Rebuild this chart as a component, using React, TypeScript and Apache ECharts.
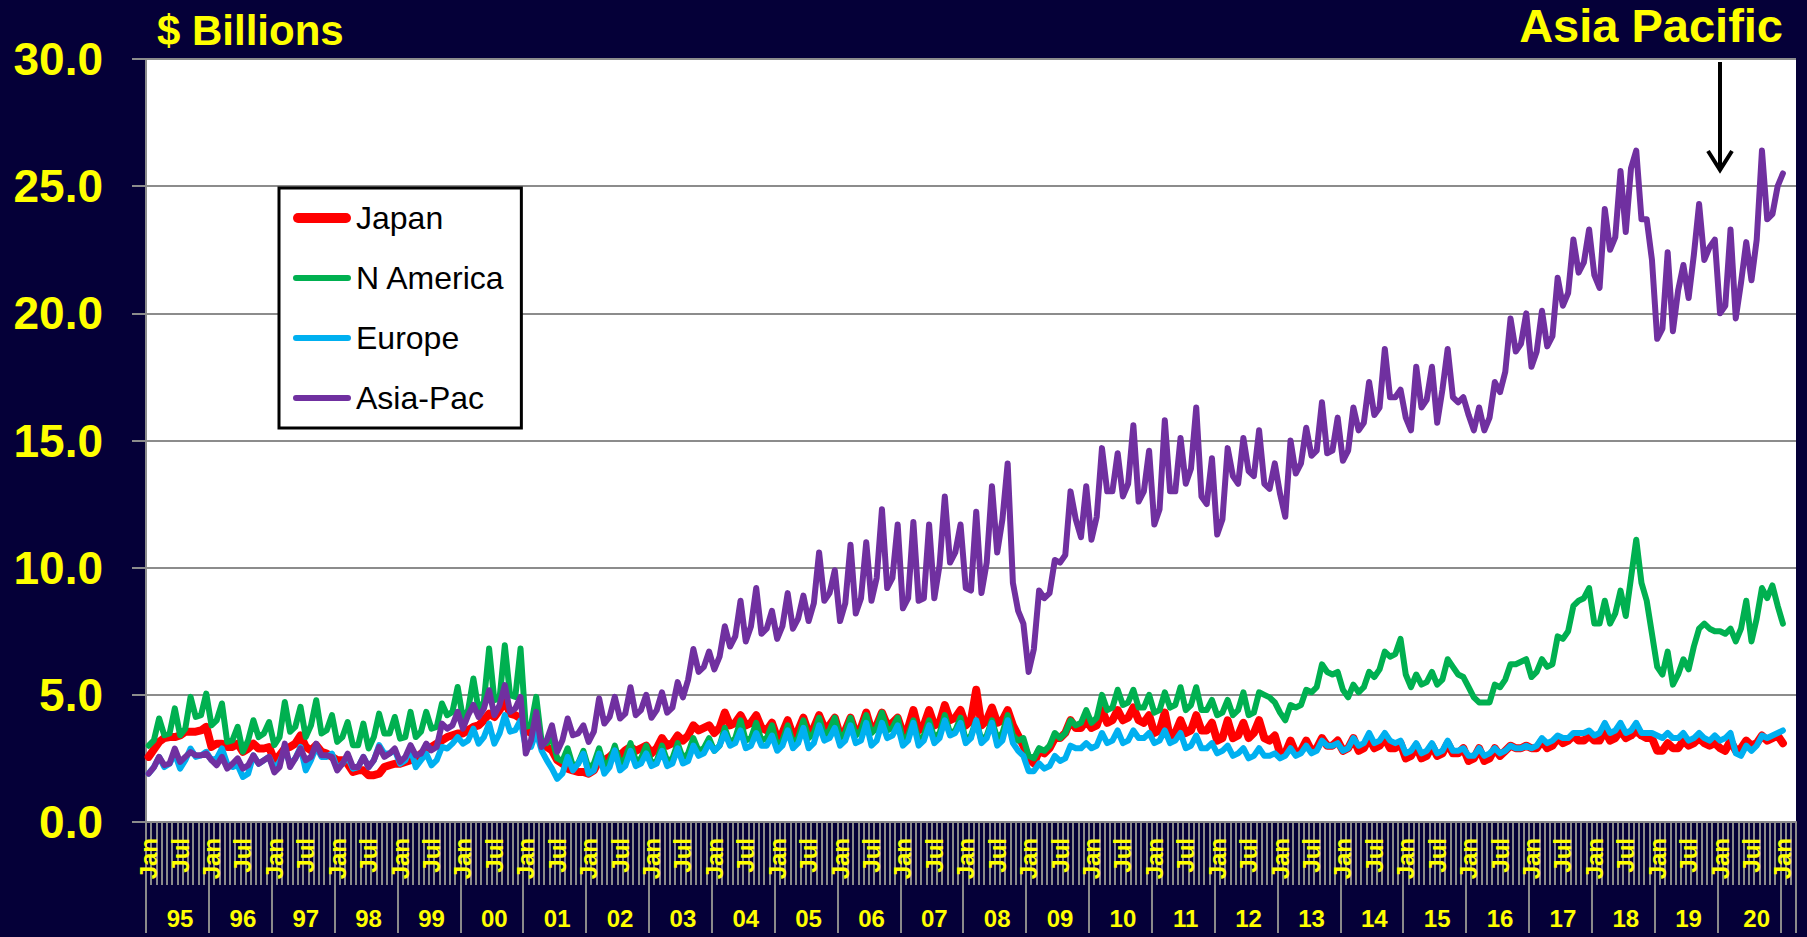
import React, { useEffect, useRef } from "react";
import * as echarts from "echarts";

const FONT = "'Liberation Sans', Arial, Helvetica, sans-serif";
const YELLOW = "#FFFF00";
const NAVY = "#050038";
const GRID_GREY = "#8c8c8c";
const TICK_GREY = "#8a8a8a";

const MONTHS = ["Jan", "Feb", "Mar", "Apr", "May", "Jun", "Jul", "Aug", "Sep", "Oct", "Nov", "Dec"];
const START_YEAR = 1995;
const CATEGORY_COUNT = 315; // Jan 1995 .. Mar 2021 slots on the axis
const CATEGORIES: string[] = [];
for (let i = 0; i < CATEGORY_COUNT; i++) {
  CATEGORIES.push(MONTHS[i % 12] + " " + (START_YEAR + Math.floor(i / 12)));
}
const MONTH_LABELS = ["Jan", "Jul"];
const YEAR_LABELS = ["95", "96", "97", "98", "99", "00", "01", "02", "03", "04", "05", "06", "07",
  "08", "09", "10", "11", "12", "13", "14", "15", "16", "17", "18", "19", "20"];

const SERIES_NAMES = ["Japan", "N America", "Europe", "Asia-Pac"];
const SERIES_COLORS = ["#FF0000", "#00B050", "#00B0F0", "#7030A0"];

const JAPAN = [
  2.56, 2.85, 3.15, 3.30, 3.34, 3.34, 3.40, 3.55, 3.55, 3.55, 3.60, 3.74,
  2.95, 3.08, 3.08, 2.95, 2.95, 3.08, 2.76, 2.89, 3.08, 2.89, 2.89, 2.95,
  2.43, 2.62, 2.89, 2.95, 3.08, 3.40, 2.95, 2.82, 3.02, 2.76, 2.69, 2.56,
  2.43, 2.43, 2.29, 1.97, 2.03, 2.03, 1.84, 1.84, 1.90, 2.16, 2.23, 2.29,
  2.29, 2.36, 2.43, 2.50, 2.69, 2.82, 2.95, 3.08, 3.21, 3.34, 3.41, 3.48,
  3.48, 3.61, 3.74, 3.80, 4.00, 4.26, 4.13, 4.40, 4.79, 4.26, 4.20, 4.07,
  3.61, 3.50, 3.61, 3.15, 2.95, 2.82, 2.43, 2.30, 2.10, 2.03, 1.97, 1.97,
  1.90, 2.03, 2.43, 2.43, 2.56, 2.76, 2.62, 2.82, 2.95, 2.80, 2.90, 3.00,
  2.70, 2.90, 3.30, 3.00, 3.10, 3.40, 3.20, 3.40, 3.80, 3.60, 3.70, 3.80,
  3.50, 3.70, 4.30, 3.80, 3.90, 4.20, 3.80, 3.90, 4.20, 3.70, 3.60, 3.90,
  3.30, 3.50, 4.00, 3.40, 3.60, 4.10, 3.50, 3.70, 4.20, 3.70, 3.80, 4.10,
  3.40, 3.60, 4.10, 3.50, 3.70, 4.30, 3.60, 3.80, 4.30, 3.80, 3.90, 4.10,
  3.50, 3.70, 4.40, 3.60, 3.80, 4.40, 3.80, 3.90, 4.60, 4.00, 4.10, 4.40,
  3.80, 4.00, 5.20, 3.80, 4.00, 4.50, 3.90, 4.00, 4.40, 3.80, 3.40, 3.00,
  2.50, 2.30, 2.80, 2.70, 2.90, 3.30, 3.30, 3.50, 4.00, 3.70, 3.70, 4.00,
  3.70, 3.80, 4.40, 3.90, 4.00, 4.40, 4.00, 4.10, 4.50, 4.00, 3.90, 4.20,
  3.50, 3.60, 4.30, 3.30, 3.50, 4.00, 3.50, 3.60, 4.20, 3.60, 3.60, 3.90,
  3.20, 3.30, 4.00, 3.30, 3.40, 3.90, 3.30, 3.50, 4.00, 3.30, 3.20, 3.40,
  2.70, 2.70, 3.20, 2.70, 2.80, 3.20, 2.80, 2.90, 3.30, 3.00, 3.00, 3.20,
  2.80, 2.90, 3.30, 2.80, 2.90, 3.30, 2.90, 3.00, 3.30, 2.90, 2.90, 3.10,
  2.50, 2.60, 3.00, 2.50, 2.60, 3.00, 2.60, 2.70, 3.10, 2.70, 2.70, 2.90,
  2.40, 2.50, 2.90, 2.40, 2.50, 2.90, 2.60, 2.80, 3.00, 2.90, 2.90, 3.00,
  2.90, 2.90, 3.20, 2.90, 3.00, 3.30, 3.10, 3.20, 3.40, 3.20, 3.20, 3.40,
  3.20, 3.20, 3.60, 3.20, 3.30, 3.60, 3.30, 3.40, 3.60, 3.40, 3.30, 3.30,
  2.80, 2.80, 3.10, 2.90, 2.90, 3.20, 3.00, 3.10, 3.30, 3.10, 3.00, 3.10,
  2.90, 2.80, 3.20, 2.80, 2.90, 3.20, 3.00, 3.10, 3.40, 3.20, 3.30, 3.40,
  3.10,
];

const N_AMERICA = [
  3.00, 3.21, 4.07, 3.41, 3.48, 4.47, 3.41, 3.67, 4.92, 4.13, 4.20, 5.05,
  3.80, 4.00, 4.66, 3.15, 3.21, 3.74, 2.76, 3.21, 4.00, 3.34, 3.48, 3.93,
  3.02, 3.34, 4.72, 3.55, 3.74, 4.53, 3.34, 3.80, 4.79, 3.48, 3.61, 4.20,
  3.15, 3.34, 3.93, 3.02, 3.02, 3.87, 2.89, 3.34, 4.26, 3.48, 3.48, 4.13,
  3.28, 3.34, 4.33, 3.34, 3.55, 4.33, 3.67, 3.74, 4.66, 4.20, 4.33, 5.31,
  4.07, 4.40, 5.64, 4.40, 4.72, 6.82, 4.79, 4.86, 6.95, 4.99, 4.92, 6.82,
  3.74, 3.80, 4.92, 3.20, 3.10, 3.30, 2.50, 2.40, 2.90, 2.20, 2.30, 2.80,
  2.10, 2.30, 2.90, 2.20, 2.40, 3.00, 2.30, 2.50, 3.10, 2.40, 2.50, 3.00,
  2.30, 2.40, 3.00, 2.40, 2.50, 3.10, 2.50, 2.70, 3.30, 2.80, 2.90, 3.30,
  2.80, 3.00, 3.70, 3.10, 3.30, 4.00, 3.20, 3.30, 3.90, 3.20, 3.30, 3.80,
  3.00, 3.20, 3.80, 3.10, 3.30, 4.00, 3.30, 3.50, 4.10, 3.40, 3.60, 4.10,
  3.30, 3.50, 4.10, 3.40, 3.60, 4.20, 3.50, 3.70, 4.30, 3.60, 3.70, 4.10,
  3.20, 3.40, 4.00, 3.20, 3.40, 4.00, 3.30, 3.50, 4.20, 3.50, 3.60, 4.10,
  3.20, 3.40, 4.00, 3.20, 3.40, 4.00, 3.30, 3.50, 4.20, 3.40, 3.20, 3.30,
  2.60, 2.50, 2.90, 2.80, 3.00, 3.50, 3.30, 3.50, 4.00, 3.80, 3.90, 4.40,
  3.90, 4.10, 5.00, 4.40, 4.50, 5.20, 4.60, 4.70, 5.20, 4.50, 4.50, 5.00,
  4.30, 4.40, 5.10, 4.50, 4.60, 5.30, 4.40, 4.60, 5.30, 4.40, 4.40, 4.80,
  4.20, 4.30, 4.80, 4.20, 4.40, 5.10, 4.20, 4.30, 5.10, 5.00, 4.90, 4.70,
  4.30, 4.00, 4.60, 4.50, 4.60, 5.20, 5.10, 5.30, 6.20, 5.90, 5.80, 5.90,
  5.20, 4.90, 5.40, 5.10, 5.30, 5.90, 5.70, 6.00, 6.70, 6.50, 6.60, 7.20,
  5.80, 5.30, 5.80, 5.40, 5.50, 5.90, 5.40, 5.60, 6.40, 6.10, 5.80, 5.70,
  5.30, 4.90, 4.70, 4.70, 4.70, 5.40, 5.30, 5.60, 6.20, 6.20, 6.30, 6.40,
  5.70, 5.90, 6.40, 6.10, 6.20, 7.30, 7.20, 7.50, 8.50, 8.70, 8.80, 9.20,
  7.80, 7.80, 8.70, 7.80, 8.20, 9.10, 8.10, 9.60, 11.10, 9.40, 8.70, 7.40,
  6.10, 5.80, 6.70, 5.40, 5.80, 6.40, 6.00, 6.90, 7.60, 7.80, 7.60, 7.50,
  7.50, 7.40, 7.60, 7.10, 7.60, 8.70, 7.10, 8.00, 9.20, 8.80, 9.30, 8.50,
  7.80,
];

const EUROPE = [
  1.90, 2.16, 2.56, 2.16, 2.29, 2.69, 2.10, 2.43, 2.89, 2.56, 2.62, 2.76,
  2.43, 2.50, 2.89, 2.29, 2.16, 2.23, 1.77, 1.90, 2.62, 2.29, 2.43, 2.56,
  2.10, 2.36, 2.82, 2.29, 2.50, 2.95, 2.03, 2.43, 2.95, 2.56, 2.56, 2.69,
  2.10, 2.29, 2.56, 2.10, 2.16, 2.56, 2.16, 2.43, 3.02, 2.69, 2.69, 2.82,
  2.29, 2.43, 2.89, 2.16, 2.43, 2.69, 2.23, 2.43, 2.95, 2.89, 3.08, 3.34,
  3.08, 3.21, 3.67, 3.08, 3.34, 3.87, 3.08, 3.48, 4.20, 3.55, 3.61, 4.00,
  2.95, 2.95, 3.55, 2.82, 2.43, 2.10, 1.70, 1.90, 2.56, 2.03, 2.29, 2.69,
  1.90, 2.03, 2.69, 1.90, 2.16, 2.82, 2.03, 2.20, 2.80, 2.20, 2.30, 2.70,
  2.20, 2.30, 2.80, 2.20, 2.30, 2.90, 2.30, 2.40, 3.00, 2.60, 2.70, 3.10,
  2.80, 3.00, 3.50, 3.00, 3.10, 3.60, 2.90, 3.00, 3.50, 3.00, 3.00, 3.40,
  2.80, 3.00, 3.60, 2.90, 3.10, 3.70, 2.90, 3.10, 3.80, 3.20, 3.30, 3.70,
  3.00, 3.20, 3.80, 3.10, 3.20, 3.90, 3.00, 3.20, 3.90, 3.30, 3.40, 3.80,
  3.00, 3.20, 3.90, 3.00, 3.20, 3.80, 3.10, 3.30, 4.00, 3.40, 3.50, 3.90,
  3.10, 3.30, 4.00, 3.10, 3.30, 3.90, 3.00, 3.20, 4.00, 3.10, 2.80, 2.60,
  2.00, 2.00, 2.30, 2.10, 2.20, 2.60, 2.40, 2.50, 3.00, 2.90, 2.90, 3.10,
  2.90, 3.00, 3.50, 3.10, 3.20, 3.60, 3.10, 3.20, 3.60, 3.30, 3.30, 3.50,
  3.10, 3.20, 3.60, 3.10, 3.20, 3.50, 2.90, 3.00, 3.40, 2.90, 2.90, 3.10,
  2.70, 2.80, 3.00, 2.60, 2.70, 2.90, 2.50, 2.60, 2.90, 2.60, 2.60, 2.70,
  2.50, 2.60, 2.90, 2.60, 2.70, 3.00, 2.70, 2.80, 3.20, 3.00, 3.00, 3.10,
  2.80, 2.90, 3.30, 3.00, 3.10, 3.50, 3.10, 3.20, 3.50, 3.20, 3.10, 3.20,
  2.70, 2.80, 3.10, 2.70, 2.80, 3.10, 2.70, 2.80, 3.20, 2.80, 2.80, 2.90,
  2.60, 2.60, 2.90, 2.60, 2.70, 2.90, 2.70, 2.80, 3.00, 2.90, 2.90, 3.00,
  2.90, 3.00, 3.30, 3.10, 3.20, 3.40, 3.30, 3.30, 3.50, 3.50, 3.50, 3.60,
  3.40, 3.50, 3.90, 3.50, 3.60, 3.90, 3.50, 3.60, 3.90, 3.50, 3.50, 3.50,
  3.40, 3.30, 3.50, 3.30, 3.30, 3.50, 3.20, 3.30, 3.50, 3.30, 3.20, 3.40,
  3.20, 3.30, 3.50, 2.70, 2.60, 3.00, 2.80, 3.00, 3.40, 3.30, 3.40, 3.50,
  3.60,
];

const ASIA_PAC = [
  1.90, 2.15, 2.56, 2.23, 2.30, 2.89, 2.36, 2.56, 2.75, 2.62, 2.62, 2.69,
  2.43, 2.23, 2.56, 2.10, 2.29, 2.50, 2.10, 2.23, 2.62, 2.29, 2.43, 2.56,
  1.95, 2.16, 3.08, 2.16, 2.50, 2.89, 2.43, 2.56, 3.08, 2.62, 2.62, 2.56,
  2.03, 2.29, 2.69, 2.16, 2.16, 2.56, 2.16, 2.43, 2.95, 2.56, 2.69, 2.89,
  2.36, 2.56, 3.02, 2.62, 2.69, 3.08, 2.82, 2.95, 3.87, 3.67, 3.80, 4.33,
  3.67, 4.20, 4.60, 4.13, 4.46, 5.18, 4.20, 4.60, 5.38, 4.33, 4.46, 4.92,
  2.69, 3.21, 4.33, 2.95, 3.21, 3.80, 2.76, 3.21, 4.07, 3.41, 3.48, 3.80,
  3.15, 3.55, 4.86, 3.87, 4.13, 4.92, 4.07, 4.26, 5.30, 4.20, 4.40, 5.00,
  4.10, 4.40, 5.10, 4.30, 4.50, 5.50, 4.90, 5.60, 6.80, 5.90, 6.10, 6.70,
  6.00, 6.50, 7.70, 6.90, 7.30, 8.70, 7.10, 7.70, 9.20, 7.40, 7.60, 8.30,
  7.20, 7.70, 9.00, 7.60, 8.00, 8.90, 7.90, 8.60, 10.60, 8.70, 9.00, 9.90,
  7.90, 8.60, 10.90, 8.20, 8.80, 11.00, 8.70, 9.60, 12.30, 9.20, 9.60, 11.70,
  8.40, 8.80, 11.80, 8.70, 8.80, 11.70, 8.80, 10.10, 12.80, 10.20, 10.60, 11.70,
  9.20, 9.10, 12.20, 9.00, 10.20, 13.20, 10.60, 11.90, 14.10, 9.40, 8.30, 7.80,
  5.90, 6.80, 9.10, 8.80, 9.00, 10.30, 10.20, 10.50, 13.00, 11.90, 11.20, 13.20,
  11.10, 12.00, 14.70, 13.00, 13.00, 14.50, 12.80, 13.30, 15.60, 12.60, 13.00, 14.60,
  11.70, 12.30, 15.80, 13.00, 13.00, 15.10, 13.30, 13.90, 16.30, 12.80, 12.50, 14.30,
  11.30, 11.90, 14.70, 13.60, 13.30, 15.10, 13.80, 13.60, 15.40, 13.30, 13.10, 14.10,
  12.90, 12.00, 15.00, 13.70, 14.10, 15.50, 14.40, 14.60, 16.50, 14.50, 14.60, 15.90,
  14.20, 14.60, 16.30, 15.40, 15.70, 17.30, 16.00, 16.30, 18.60, 16.70, 16.70, 17.00,
  15.90, 15.40, 17.90, 16.30, 16.60, 17.90, 15.70, 17.00, 18.60, 16.70, 16.50, 16.70,
  16.00, 15.40, 16.30, 15.40, 15.90, 17.30, 16.90, 17.70, 19.80, 18.50, 18.80, 20.00,
  17.90, 18.50, 20.10, 18.70, 19.10, 21.40, 20.30, 20.80, 22.90, 21.60, 22.00, 23.30,
  21.50, 21.00, 24.10, 22.50, 23.00, 25.60, 23.20, 25.70, 26.40, 23.70, 23.70, 22.10,
  19.00, 19.40, 22.40, 19.30, 20.90, 21.90, 20.60, 22.30, 24.30, 22.10, 22.60, 22.90,
  20.00, 20.30, 23.30, 19.80, 21.20, 22.80, 21.30, 22.90, 26.40, 23.70, 23.90, 25.00,
  25.50,
];

const SERIES_DATA = [JAPAN, N_AMERICA, EUROPE, ASIA_PAC];
const SERIES_WIDTHS = [8, 6, 6, 6];

const ICON_THICK = "path://M5,0L53,0A5,5,0,0,1,53,10L5,10A5,5,0,0,1,5,0Z";
const ICON_THIN = "path://M3,0L55,0A3,3,0,0,1,55,6L3,6A3,3,0,0,1,3,0Z";

function yearLabelIndex(i: number): boolean {
  const lastYearStart = (YEAR_LABELS.length - 1) * 12;
  if (i >= lastYearStart) return i === lastYearStart + 7;
  return i % 12 === 6;
}

export default function App() {
  const ref = useRef<HTMLDivElement>(null);

  useEffect(() => {
    if (!ref.current) return;
    const chart = echarts.init(ref.current, undefined, { renderer: "svg" });

    const option: any = {
      animation: false,
      backgroundColor: NAVY,
      textStyle: { fontFamily: FONT },
      grid: {
        left: 146,
        right: 11,
        top: 59,
        bottom: 115,
        show: true,
        backgroundColor: "#ffffff",
        borderWidth: 0,
        containLabel: false,
      },
      legend: {
        orient: "vertical",
        left: 279,
        top: 188,
        backgroundColor: "#ffffff",
        borderColor: "#000000",
        borderWidth: 3,
        borderRadius: 0,
        padding: [14, 16, 14, 14],
        itemGap: 28,
        itemWidth: 58,
        itemHeight: 10,
        textStyle: { color: "#000000", fontSize: 32, fontFamily: FONT },
        data: SERIES_NAMES.map((n, k) => ({ name: n, icon: k === 0 ? ICON_THICK : ICON_THIN })),
      },
      xAxis: [
        {
          type: "category",
          data: CATEGORIES,
          position: "bottom",
          boundaryGap: true,
          axisLine: { show: true, onZero: false, lineStyle: { color: GRID_GREY, width: 2 } },
          axisTick: { show: true, interval: 0, length: 63, lineStyle: { color: TICK_GREY, width: 2 } },
          axisLabel: {
            interval: (i: number) => MONTH_LABELS.includes(CATEGORIES[i].slice(0, 3)),
            formatter: (v: string) => v.slice(0, 3),
            rotate: 90,
            color: YELLOW,
            fontSize: 24,
            fontWeight: "bold",
            fontFamily: FONT,
            margin: 16,
          },
          splitLine: { show: false },
        },
        {
          type: "category",
          data: CATEGORIES,
          position: "bottom",
          offset: 0,
          boundaryGap: true,
          axisLine: { show: false, onZero: false },
          axisTick: {
            show: true,
            interval: (i: number) => i % 12 === 0,
            length: 111,
            lineStyle: { color: TICK_GREY, width: 2 },
          },
          axisLabel: {
            interval: (i: number) => yearLabelIndex(i),
            formatter: (v: string) => {
              const y = parseInt(v.slice(-4), 10);
              return YEAR_LABELS[y - START_YEAR];
            },
            color: YELLOW,
            fontSize: 24,
            fontWeight: "bold",
            fontFamily: FONT,
            margin: 84,
          },
          splitLine: { show: false },
        },
      ],
      yAxis: {
        type: "value",
        min: 0,
        max: 30,
        interval: 5,
        axisLine: { show: true, lineStyle: { color: GRID_GREY, width: 2 } },
        axisTick: { show: true, length: 14, lineStyle: { color: GRID_GREY, width: 2 } },
        axisLabel: {
          formatter: (v: number) => v.toFixed(1),
          color: YELLOW,
          fontSize: 46,
          fontWeight: "bold",
          fontFamily: FONT,
          margin: 43,
        },
        splitLine: { show: true, lineStyle: { color: GRID_GREY, width: 2 } },
      },
      series: SERIES_NAMES.map((name, k) => ({
        name,
        type: "line",
        data: SERIES_DATA[k],
        xAxisIndex: 0,
        symbol: "none",
        smooth: false,
        lineStyle: { color: SERIES_COLORS[k], width: SERIES_WIDTHS[k], join: "round", cap: "round" },
        itemStyle: { color: SERIES_COLORS[k] },
        emphasis: { disabled: true },
        z: 2 + k,
      })),
      graphic: [
        {
          type: "text",
          x: 157,
          y: 30,
          style: {
            text: "$ Billions",
            fill: YELLOW,
            font: "bold 42px " + FONT,
            align: "left",
            verticalAlign: "middle",
          },
        },
        {
          type: "text",
          x: 1783,
          y: 25,
          style: {
            text: "Asia Pacific",
            fill: YELLOW,
            font: "bold 47px " + FONT,
            align: "right",
            verticalAlign: "middle",
          },
        },
        {
          type: "line",
          shape: { x1: 1720, y1: 62, x2: 1720, y2: 168 },
          style: { stroke: "#000000", lineWidth: 4 },
          z: 100,
        },
        {
          type: "polyline",
          shape: { points: [[1708, 151], [1720, 170], [1732, 151]] },
          style: { stroke: "#000000", lineWidth: 4, fill: "none" },
          z: 100,
        },
      ],
    };

    chart.setOption(option);
    return () => chart.dispose();
  }, []);

  return (
    <div
      ref={ref}
      style={{ position: "fixed", left: 0, top: 0, width: 1807, height: 937 }}
    />
  );
}
